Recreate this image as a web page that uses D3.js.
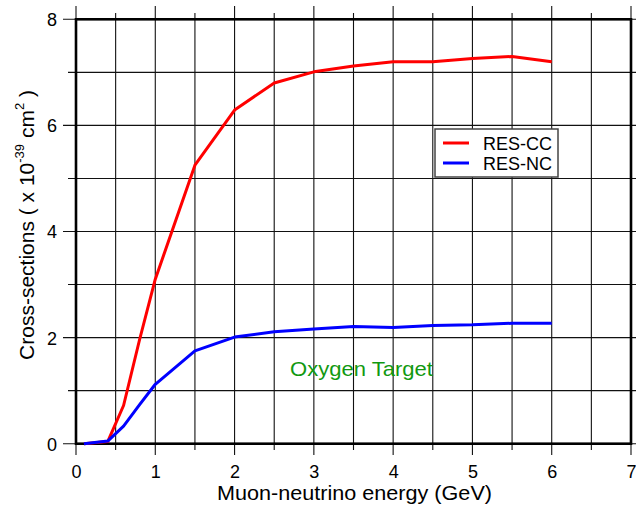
<!DOCTYPE html>
<html>
<head>
<meta charset="utf-8">
<script src="https://cdn.jsdelivr.net/npm/d3@7"></script>
<style>
  html, body { margin: 0; padding: 0; background: #fff; }
  svg { display: block; font-family: "Liberation Sans", Arial, sans-serif; }
</style>
</head>
<body>
<svg id="chart" width="636" height="510"></svg>
<script>
// ---- data ----
const energy = [0.1, 0.4, 0.6, 0.8, 1.0, 1.5, 2.0, 2.5, 3.0, 3.5, 4.0, 4.5, 5.0, 5.5, 6.0];
const resCC  = [0, 0.04, 0.72, 1.95, 3.1, 5.25, 6.29, 6.8, 7.01, 7.12, 7.2, 7.2, 7.26, 7.3, 7.2];
const resNC  = [0, 0.05, 0.33, 0.73, 1.12, 1.75, 2.01, 2.11, 2.16, 2.21, 2.19, 2.23, 2.24, 2.27, 2.27];
const xMajor = [0, 1, 2, 3, 4, 5, 6, 7];
const xMinor = [0.5, 1.5, 2.5, 3.5, 4.5, 5.5, 6.5];
const yMajor = [0, 2, 4, 6, 8];
const yMinor = [1, 3, 5, 7];
const seriesNames = ["RES-CC", "RES-NC"];
const seriesColors = ["#ff0000", "#0000ff"];

const svg = d3.select("#chart");
const L = 76, R = 631, T = 19.3, B = 443.7;
const x = d3.scaleLinear().domain([0, 7]).range([L, R]);
const y = d3.scaleLinear().domain([0, 8]).range([B, T]);

// grid lines with tick extensions
const grid = svg.append("g").attr("stroke", "#111").attr("stroke-width", 1.1);
grid.selectAll(".vmaj").data(xMajor).join("line")
  .attr("x1", d => x(d)).attr("x2", d => x(d)).attr("y1", 6).attr("y2", 455);
grid.selectAll(".vmin").data(xMinor).join("line")
  .attr("x1", d => x(d)).attr("x2", d => x(d)).attr("y1", 13).attr("y2", 450);
grid.selectAll(".hmaj").data(yMajor).join("line")
  .attr("y1", d => y(d)).attr("y2", d => y(d)).attr("x1", 63).attr("x2", 644);
grid.selectAll(".hmin").data(yMinor).join("line")
  .attr("y1", d => y(d)).attr("y2", d => y(d)).attr("x1", 68).attr("x2", 639);

// frame
svg.append("rect").attr("x", L).attr("y", T).attr("width", R - L).attr("height", B - T)
  .attr("fill", "none").attr("stroke", "#000").attr("stroke-width", 2.6);

// axes (labels)
const xAxis = svg.append("g").attr("transform", `translate(0,${B})`)
  .call(d3.axisBottom(x).tickValues(xMajor).tickSize(0).tickPadding(0).tickFormat(d3.format("d")));
xAxis.select(".domain").remove();
xAxis.selectAll("text").attr("y", 34.5).attr("dy", null)
  .attr("font-size", 18).attr("font-family", '"Liberation Sans", Arial, sans-serif').attr("fill", "#000");

const yAxis = svg.append("g").attr("transform", `translate(${L},0)`)
  .call(d3.axisLeft(y).tickValues(yMajor).tickSize(0).tickPadding(0).tickFormat(d3.format("d")));
yAxis.select(".domain").remove();
yAxis.selectAll("text").attr("x", -19).attr("dy", "0.36em")
  .attr("font-size", 18).attr("font-family", '"Liberation Sans", Arial, sans-serif').attr("fill", "#000");

// series
const line = d3.line().x(d => x(d[0])).y(d => y(d[1]));
[resCC, resNC].forEach((vals, i) => {
  svg.append("path").datum(energy.map((e, j) => [e, vals[j]]))
    .attr("d", line).attr("fill", "none").attr("stroke", seriesColors[i])
    .attr("stroke-width", 3).attr("stroke-linejoin", "round");
});

// legend
const lg = svg.append("g");
lg.append("rect").attr("x", 435).attr("y", 129).attr("width", 123).attr("height", 48)
  .attr("fill", "#fff").attr("stroke", "#444").attr("stroke-width", 1.5);
seriesNames.forEach((n, i) => {
  const yy = 143 + i * 20;
  lg.append("line").attr("x1", 443).attr("x2", 469).attr("y1", yy).attr("y2", yy)
    .attr("stroke", seriesColors[i]).attr("stroke-width", 3);
  lg.append("text").attr("x", 483).attr("y", yy + 6.5).attr("font-size", 18).text(n);
});

// annotation
svg.append("text").attr("x", 290).attr("y", 376).attr("font-size", 21)
  .attr("textLength", 143).attr("lengthAdjust", "spacingAndGlyphs")
  .attr("fill", "#119911").text("Oxygen Target");

// axis titles
svg.append("text").attr("x", 217).attr("y", 500)
  .attr("textLength", 275).attr("lengthAdjust", "spacingAndGlyphs")
  .attr("font-size", 21).text("Muon-neutrino energy (GeV)");

const yt = svg.append("text").attr("transform", "translate(34,225) rotate(-90)")
  .attr("text-anchor", "middle").attr("font-size", 21);
yt.append("tspan").text("Cross-sections ( x 10");
yt.append("tspan").attr("font-size", 13).attr("dy", -10).text("-39");
yt.append("tspan").attr("dy", 10).text(" cm");
yt.append("tspan").attr("font-size", 13).attr("dy", -10).text("2");
yt.append("tspan").attr("dy", 10).text(" )");
</script>
</body>
</html>
